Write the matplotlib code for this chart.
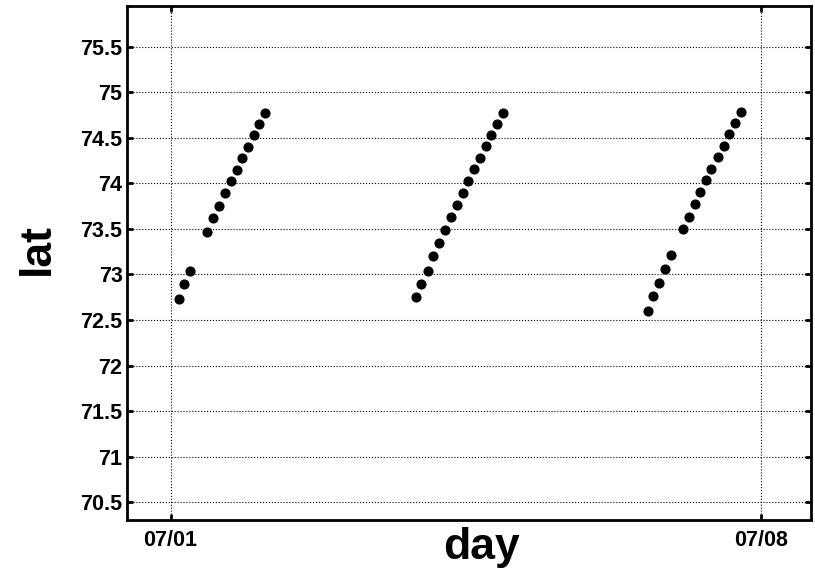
import matplotlib
matplotlib.use('Agg')
import matplotlib.pyplot as plt

# fractional day of July for each fix, and latitude of each fix
day_leg1 = [1.095, 1.162, 1.233, 1.434, 1.502, 1.573, 1.644, 1.712, 1.783,
            1.850, 1.921, 1.985, 2.051, 2.122]
lat_leg1 = [72.73, 72.90, 73.04, 73.47, 73.62, 73.75, 73.89, 74.03, 74.15,
            74.28, 74.40, 74.53, 74.65, 74.77]

day_leg2 = [3.910, 3.973, 4.049, 4.115, 4.187, 4.254, 4.325, 4.397, 4.464,
            4.531, 4.602, 4.666, 4.737, 4.804, 4.871, 4.946]
lat_leg2 = [72.75, 72.90, 73.04, 73.20, 73.34, 73.49, 73.63, 73.76, 73.89,
            74.03, 74.16, 74.28, 74.41, 74.53, 74.65, 74.77]

day_leg3 = [6.662, 6.725, 6.796, 6.867, 6.935, 7.074, 7.145, 7.216, 7.279,
            7.347, 7.413, 7.485, 7.556, 7.623, 7.694, 7.765]
lat_leg3 = [72.60, 72.76, 72.91, 73.06, 73.21, 73.50, 73.63, 73.77, 73.90,
            74.04, 74.16, 74.29, 74.41, 74.54, 74.66, 74.78]

day_ticks = [1, 8]
day_tick_labels = ['07/01', '07/08']
lat_ticks = [70.5, 71, 71.5, 72, 72.5, 73, 73.5, 74, 74.5, 75, 75.5]
lat_tick_labels = ['70.5', '71', '71.5', '72', '72.5', '73', '73.5', '74',
                   '74.5', '75', '75.5']

plt.rcParams['font.family'] = ['Liberation Sans', 'DejaVu Sans']
plt.rcParams['font.weight'] = 'bold'

fig = plt.figure(figsize=(8.15, 5.72), dpi=100)
ax = fig.add_axes([0.156, 0.0909, 0.8387, 0.8986])

for d, la in [(day_leg1, lat_leg1), (day_leg2, lat_leg2), (day_leg3, lat_leg3)]:
    ax.plot(d, la, 'o', color='black', markersize=6.3, linestyle='none')

ax.set_xlim(0.485, 8.589)
ax.set_ylim(70.306, 75.945)
ax.set_xticks(day_ticks)
ax.set_xticklabels(day_tick_labels)
ax.set_yticks(lat_ticks)
ax.set_yticklabels(lat_tick_labels)

ax.grid(True, color='black', linestyle=':', linewidth=0.8)
for s in ax.spines.values():
    s.set_linewidth(2.0)
ax.tick_params(axis='both', direction='in', length=4.3, width=2.0,
               top=True, right=True, labelsize=15.5)
ax.tick_params(axis='x', pad=7)
ax.tick_params(axis='y', pad=3.3)
for lbl in ax.get_xticklabels() + ax.get_yticklabels():
    lbl.set_fontweight('bold')

ax.set_xlabel('day', fontsize=32, fontweight='bold', va='baseline')
ax.xaxis.set_label_coords(0.519, -0.075)
ax.set_ylabel('lat', fontsize=32, fontweight='bold', va='baseline')
ax.yaxis.set_label_coords(-0.115, 0.527)

fig.savefig('out.png', dpi=100)
